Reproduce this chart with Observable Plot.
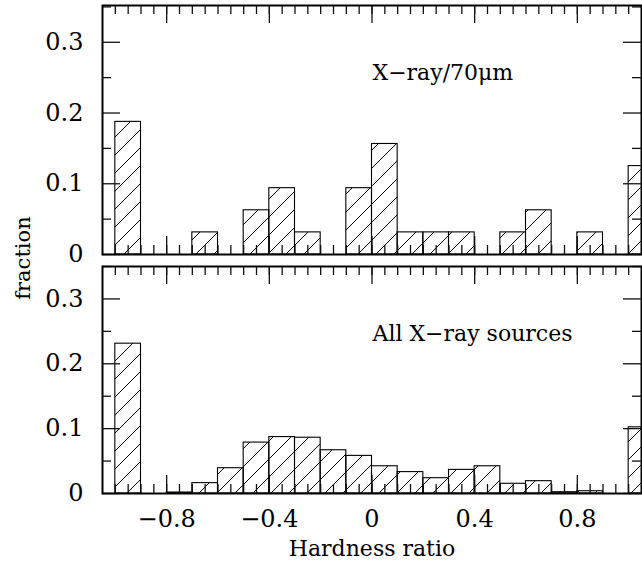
<!DOCTYPE html>
<html><head><meta charset="utf-8">
<script src="https://cdn.jsdelivr.net/npm/d3@7"></script>
<script src="https://cdn.jsdelivr.net/npm/@observablehq/plot@0.6"></script>
<style>
body{margin:0;background:#fff;}
#chart{position:relative;width:642px;height:561px;font-family:"DejaVu Serif",serif;}
#chart svg{position:absolute;left:0;}
#ylab{position:absolute;left:23px;top:258px;transform:translate(-50%,-50%) rotate(-90deg);font-size:21px;white-space:nowrap;color:#000;}
</style></head><body><div id="chart"></div>
<script>
// ---- data ----
const binStart = [-1.0,-0.9,-0.8,-0.7,-0.6,-0.5,-0.4,-0.3,-0.2,-0.1,0.0,0.1,0.2,0.3,0.4,0.5,0.6,0.7,0.8,0.9,1.0];
const binWidth = 0.1;
const fracXray70 = [0.1875,0,0,0.03125,0,0.0625,0.09375,0.03125,0,0.09375,0.15625,0.03125,0.03125,0.03125,0,0.03125,0.0625,0,0.03125,0,0.125];
const fracAllXray = [0.231,0,0.0015,0.016,0.039,0.0785,0.087,0.086,0.0667,0.058,0.042,0.033,0.0236,0.0364,0.042,0.015,0.019,0.002,0.0035,0,0.102];
const xTickLabels = [-0.8,-0.4,0,0.4,0.8];
const yTickLabels = [0,0.1,0.2,0.3];
const yMinorTicks = [0.05,0.15,0.25,0.35];
const panelLabels = ["X\u2212ray/70\u03bcm","All X\u2212ray sources"];
const xTitle = "Hardness ratio";
const yTitle = "fraction";

const xMinorTicks = d3.range(-20,21).map(i => i*0.05);
const fmt = d => d === 0 ? "0" : (d < 0 ? "\u2212" : "") + Math.abs(d);

function panel({values, label, height, top, marginTop, marginBottom, yMax, showX, hatchId}) {
  const W = 642, ML = 102, MR = 1;
  const plotH = height - marginTop - marginBottom, plotW = W - ML - MR;
  const rows = binStart.map((s,i) => ({x1: s, x2: s + binWidth, y1: 0, y2: values[i]}));
  const tk = {stroke: "#111", strokeWidth: 1.3};
  const MJ = 18, MN = 9;
  const marks = [
    Plot.rect(rows, {x1:"x1", x2:"x2", y1:"y1", y2:"y2", fill:`url(#${hatchId})`, stroke:"black", strokeWidth:1.1, clip:true}),
    // inward tick marks on all four sides
    Plot.ruleX(xMinorTicks, {...tk, x: d => d, insetTop: plotH - MN}),
    Plot.ruleX(xMinorTicks, {...tk, x: d => d, insetBottom: plotH - MN}),
    Plot.ruleX(xTickLabels, {...tk, x: d => d, insetTop: plotH - MJ}),
    Plot.ruleX(xTickLabels, {...tk, x: d => d, insetBottom: plotH - MJ}),
    Plot.ruleY(yMinorTicks, {...tk, y: d => d, insetRight: plotW - MN}),
    Plot.ruleY(yMinorTicks, {...tk, y: d => d, insetLeft: plotW - MN}),
    Plot.ruleY(yTickLabels, {...tk, y: d => d, insetRight: plotW - MJ}),
    Plot.ruleY(yTickLabels, {...tk, y: d => d, insetLeft: plotW - MJ}),
    Plot.axisY(yTickLabels, {anchor:"left", tickSize:0, tickPadding:9, dx:-10, tickFormat:fmt, fontSize:24, label:null, fill:"black", stroke:"none"}),
    Plot.text([label], {text: d => d, frameAnchor:"top-left", dx:270, dy:67, textAnchor:"start", lineAnchor:"middle", fontSize:22, fill:"black"}),
    Plot.frame({stroke:"black", strokeWidth:2})
  ];
  if (showX) {
    marks.push(Plot.axisX(xTickLabels, {anchor:"bottom", tickSize:0, tickPadding:9, dy:7, tickFormat:fmt, fontSize:24, label:null, fill:"black", stroke:"none"}));
    marks.push(Plot.text([xTitle], {text: d => d, frameAnchor:"bottom", dy:55, lineAnchor:"middle", fontSize:22, fill:"black"}));
  }
  const svg = Plot.plot({
    width: W, height, marginLeft: ML, marginRight: MR, marginTop, marginBottom,
    x: {domain: [-1.05, 1.05], axis: null},
    y: {domain: [0, yMax], axis: null},
    style: {fontFamily: "'DejaVu Serif', serif", background: "transparent", overflow: "visible", color: "black"},
    marks
  });
  const ns = "http://www.w3.org/2000/svg";
  const defs = document.createElementNS(ns, "defs");
  defs.innerHTML = `<pattern id="${hatchId}" patternUnits="userSpaceOnUse" width="18" height="18"><path d="M0,18L18,0M-4.5,4.5L4.5,-4.5M13.5,22.5L22.5,13.5" stroke="black" stroke-width="1" fill="none"/></pattern>`;
  svg.insertBefore(defs, svg.firstChild);
  svg.style.top = top + "px";
  return svg;
}

const chart = document.getElementById("chart");
chart.appendChild(panel({values: fracXray70, label: panelLabels[0], height: 260, top: 0, marginTop: 5, marginBottom: 6, yMax: 0.352, showX: false, hatchId: "hatchA"}));
chart.appendChild(panel({values: fracAllXray, label: panelLabels[1], height: 301, top: 260, marginTop: 6, marginBottom: 68, yMax: 0.35, showX: true, hatchId: "hatchB"}));
const yl = document.createElement("div");
yl.id = "ylab";
yl.textContent = yTitle;
chart.appendChild(yl);
</script>
</body></html>
